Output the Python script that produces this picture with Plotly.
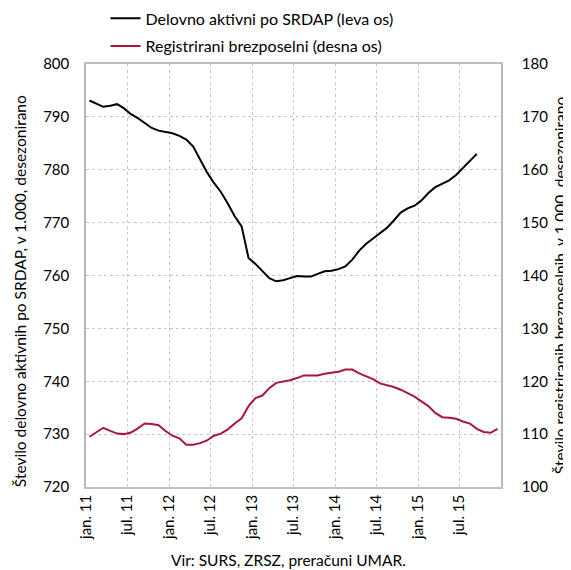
import plotly.graph_objects as go

# Months Jan 2011 .. Dec 2015 (index 0..59)
tick_positions = [0, 6, 12, 18, 24, 30, 36, 42, 48, 54]
tick_labels = ["jan. 11", "jul. 11", "jan. 12", "jul. 12", "jan. 13",
               "jul. 13", "jan. 14", "jul. 14", "jan. 15", "jul. 15"]

# Delovno aktivni po SRDAP (thousand), Jan 2011 .. Sep 2015
employed = [793.1, 792.5, 791.9, 792.1, 792.4, 791.6, 790.5, 789.75, 788.8, 787.9,
            787.4, 787.2, 786.9, 786.4, 785.7, 784.4, 781.9, 779.5, 777.5, 775.8,
            773.6, 771.2, 769.3, 763.3, 762.2, 760.9, 759.5, 758.9, 759.1, 759.5,
            759.9, 759.8, 759.8, 760.3, 760.8, 760.9, 761.2, 761.7, 763.0, 764.7,
            766.0, 767.0, 768.0, 769.0, 770.4, 771.9, 772.7, 773.2, 774.2, 775.6,
            776.7, 777.4, 778.0, 779.0, 780.3, 781.6, 783.0]

# Registrirani brezposelni (thousand), Jan 2011 .. Dec 2015
unemployed = [109.5, 110.4, 111.2, 110.6, 110.1, 110.0, 110.3, 111.1, 112.0, 111.9,
              111.7, 110.6, 109.7, 109.2, 108.0, 108.0, 108.3, 108.8, 109.7, 110.1,
              110.9, 112.0, 113.0, 115.3, 116.8, 117.3, 118.7, 119.7, 119.9, 120.2,
              120.6, 121.1, 121.1, 121.1, 121.4, 121.6, 121.8, 122.2, 122.2, 121.5,
              120.9, 120.4, 119.6, 119.3, 118.9, 118.4, 117.8, 117.1, 116.2, 115.3,
              114.0, 113.2, 113.1, 112.9, 112.4, 112.0, 111.0, 110.4, 110.25, 111.0]

left_title = "Število delovno aktivnih po SRDAP, v 1.000, desezonirano"
right_title = "Število registriranih brezposelnih, v 1.000, desezonirano"
source_text = "Vir: SURS, ZRSZ, preračuni UMAR."

x_emp = [i + 0.5 for i in range(len(employed))]
x_unemp = [i + 0.5 for i in range(len(unemployed))]

FONT = "Lato"
fig = go.Figure()
fig.add_trace(go.Scatter(x=x_emp, y=employed, mode="lines",
                         name="Delovno aktivni po SRDAP (leva os)",
                         line=dict(color="#000000", width=2), legendgroup="a"))
fig.add_trace(go.Scatter(x=x_unemp, y=unemployed, mode="lines",
                         name="Registrirani brezposelni (desna os)",
                         line=dict(color="#A8173A", width=2), yaxis="y2", legendgroup="b"))

# page body has an 8px default margin: size the figure to fit the window
fig.update_layout(
    width=563, height=562,
    margin=dict(l=78, r=70, t=55.5, b=83, autoexpand=False),
    paper_bgcolor="white", plot_bgcolor="white",
    font=dict(family=FONT, size=15, color="#000000"),
    showlegend=True,
    legend=dict(x=0.047, y=1.148, xanchor="left", yanchor="top",
                orientation="v", bgcolor="rgba(0,0,0,0)",
                font=dict(size=16), tracegroupgap=4, itemwidth=30),
    xaxis=dict(range=[0, 60], tickmode="array", tickvals=tick_positions,
               ticktext=tick_labels, tickangle=-90, automargin=False,
               showgrid=True, gridcolor="#c8c8c8", griddash="dot", gridwidth=1,
               showline=True, linecolor="#c0c0c0", linewidth=1.5, mirror=True,
               ticks="", zeroline=False, tickfont=dict(size=15)),
    yaxis=dict(range=[720, 800], dtick=10, showgrid=True, gridcolor="#c8c8c8",
               griddash="dot", gridwidth=1, showline=True, linecolor="#b8b8b8",
               linewidth=1.5, ticks="", zeroline=False, ticklabelstandoff=12,
               automargin=False),
    yaxis2=dict(range=[100, 180], dtick=10, overlaying="y", side="right",
                showgrid=False, showline=True, linecolor="#b8b8b8", linewidth=1.5,
                ticks="", zeroline=False, ticklabelstandoff=16, automargin=False),
    annotations=[
        dict(text=left_title, x=-0.159, y=0.463, xref="paper", yref="paper",
             textangle=-90, showarrow=False, xanchor="center", yanchor="middle",
             font=dict(size=15.5)),
        dict(text=right_title, x=1.142, y=0.477, xref="paper", yref="paper",
             textangle=-90, showarrow=False, xanchor="center", yanchor="middle",
             font=dict(size=15.5)),
        dict(text=source_text, x=0.489, y=-0.172,
             xref="paper", yref="paper", showarrow=False,
             xanchor="center", yanchor="middle", font=dict(size=15.5)),
    ],
)

fig.write_html("out.html")
